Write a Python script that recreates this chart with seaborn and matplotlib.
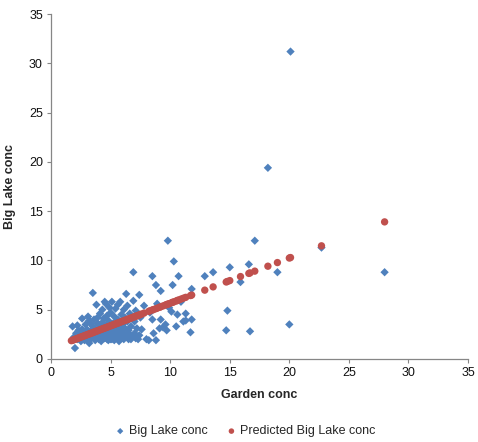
import seaborn as sns
import matplotlib.pyplot as plt

# Garden conc vs Big Lake conc (observed)
garden = [1.8, 2.0, 1.9, 2.1, 2.2, 2.3, 2.4, 2.5, 2.6, 2.6, 2.7, 2.8, 2.9, 3.0, 3.0,
          3.1, 3.2, 3.2, 3.3, 3.4, 3.5, 3.5, 3.6, 3.6, 3.7, 3.7, 3.8, 3.8, 3.9, 3.9,
          4.0, 4.0, 4.1, 4.1, 4.2, 4.2, 4.3, 4.3, 4.4, 4.4, 4.5, 4.5, 4.5, 4.6, 4.6,
          4.7, 4.7, 4.8, 4.8, 4.9, 4.9, 5.0, 5.0, 5.1, 5.1, 5.2, 5.2, 5.3, 5.3, 5.4,
          5.4, 5.5, 5.5, 5.6, 5.6, 5.7, 5.7, 5.8, 5.8, 5.9, 5.9, 6.0, 6.0, 6.1, 6.1,
          6.2, 6.2, 6.3, 6.3, 6.4, 6.4, 6.5, 6.5, 6.6, 6.7, 6.8, 6.9, 6.9, 7.0, 7.0,
          7.1, 7.2, 7.3, 7.4, 7.4, 7.5, 7.6, 7.8, 8.0, 8.2, 8.3, 8.5, 8.5, 8.6, 8.8,
          8.8, 8.9, 9.1, 9.2, 9.2, 9.4, 9.6, 9.7, 9.8, 9.9, 10.1, 10.2, 10.3, 10.5,
          10.6, 10.7, 10.9, 11.1, 11.3, 11.3, 11.7, 11.8, 11.8, 12.9, 13.6, 14.7,
          14.8, 15.0, 15.9, 16.6, 16.7, 17.1, 18.2, 19.0, 20.0, 20.1, 22.7, 28.0,
          2.2, 2.5, 2.8, 3.3, 3.4, 3.9, 4.0, 4.6, 4.9, 5.0, 5.5, 5.6, 6.0, 6.1, 6.6,
          6.7, 7.1, 3.1, 2.9, 4.8, 5.3]
big_lake = [3.3, 1.1, 2.2, 2.6, 2.0, 2.9, 2.4, 1.8, 4.1, 3.0, 2.2, 2.6, 3.5, 2.0, 3.0,
            2.4, 1.6, 3.9, 2.8, 2.1, 6.7, 3.3, 2.5, 4.0, 1.9, 3.0, 5.5, 2.3, 3.6, 4.2,
            2.0, 2.8, 4.6, 3.2, 2.4, 1.8, 3.7, 5.0, 2.6, 4.1, 5.8, 2.1, 3.0, 5.6, 3.4,
            2.0, 4.4, 2.7, 3.9, 5.2, 2.3, 3.1, 4.7, 5.8, 2.0, 2.6, 3.6, 4.3, 1.9, 5.1,
            2.9, 2.2, 3.3, 4.0, 5.5, 2.5, 1.8, 5.8, 3.0, 2.1, 4.5, 2.7, 3.5, 5.0, 2.0,
            4.2, 3.1, 6.6, 2.4, 3.8, 5.4, 2.0, 2.9, 4.6, 3.3, 2.2, 8.8, 5.9, 3.8, 2.6,
            4.9, 3.1, 2.0, 6.5, 2.4, 4.2, 3.0, 5.4, 2.0, 1.9, 4.7, 8.4, 4.0, 2.6, 7.5,
            1.9, 5.6, 3.1, 6.9, 4.0, 3.2, 3.5, 2.9, 12.0, 5.2, 4.8, 7.5, 9.9, 3.3,
            4.5, 8.4, 5.8, 3.8, 3.9, 4.6, 2.7, 4.0, 7.1, 8.4, 8.8, 2.9,
            4.9, 9.3, 7.8, 9.6, 2.8, 12.0, 19.4, 8.8, 3.5, 31.2, 11.3, 8.8,
            3.4, 2.7, 1.9, 3.6, 2.9, 2.2, 3.5, 2.5, 3.7, 2.0, 2.6, 3.1, 2.2, 3.9, 2.5,
            2.0, 2.1, 4.3, 2.2, 1.9, 2.3]

# Predicted Big Lake conc at each Garden conc value
pred_x = [1.7, 1.8, 1.9, 2.0, 2.1, 2.2, 2.3, 2.4, 2.5, 2.6, 2.7, 2.8, 2.9, 3.0, 3.1,
          3.2, 3.3, 3.4, 3.5, 3.6, 3.7, 3.8, 3.9, 4.0, 4.1, 4.2, 4.3, 4.4, 4.5, 4.6,
          4.7, 4.8, 4.9, 5.0, 5.1, 5.2, 5.3, 5.4, 5.5, 5.6, 5.7, 5.8, 5.9, 6.0, 6.1,
          6.2, 6.3, 6.4, 6.5, 6.6, 6.7, 6.8, 6.9, 7.0, 7.1, 7.2, 7.3, 7.4, 7.5, 7.6,
          7.8, 8.2, 8.3, 8.5, 8.6, 8.8, 8.9, 9.1, 9.2, 9.4, 9.6, 9.7, 9.8, 9.9, 10.1,
          10.2, 10.3, 10.5, 10.6, 10.7, 10.9, 11.1, 11.3, 11.7, 11.8, 12.9, 13.6,
          14.7, 14.8, 15.0, 15.9, 16.6, 16.7, 17.1, 18.2, 19.0, 20.0, 20.1, 22.7, 28.0]
pred_y = [1.85, 1.90, 1.94, 1.99, 2.03, 2.08, 2.12, 2.17, 2.22, 2.26, 2.31, 2.35, 2.40,
          2.45, 2.49, 2.54, 2.58, 2.63, 2.67, 2.72, 2.77, 2.81, 2.86, 2.90, 2.95, 3.00,
          3.04, 3.09, 3.13, 3.18, 3.22, 3.27, 3.32, 3.36, 3.41, 3.45, 3.50, 3.55, 3.59,
          3.64, 3.68, 3.73, 3.78, 3.82, 3.87, 3.91, 3.96, 4.00, 4.05, 4.10, 4.14, 4.19,
          4.23, 4.28, 4.33, 4.37, 4.42, 4.46, 4.51, 4.55, 4.65, 4.83, 4.88, 4.97, 5.01,
          5.10, 5.15, 5.24, 5.29, 5.38, 5.47, 5.52, 5.56, 5.61, 5.70, 5.75, 5.79, 5.88,
          5.93, 5.98, 6.07, 6.16, 6.25, 6.43, 6.48, 6.98, 7.31, 7.81, 7.86, 7.95, 8.36,
          8.68, 8.73, 8.91, 9.41, 9.78, 10.24, 10.29, 11.48, 13.91]

sns.set_style("white")
plt.rcParams['font.family'] = ['Liberation Sans', 'DejaVu Sans']

fig, ax = plt.subplots(figsize=(4.78, 4.42), dpi=100)
fig.subplots_adjust(left=0.107, right=0.979, bottom=0.188, top=0.968)

sns.scatterplot(x=garden, y=big_lake, ax=ax, marker="D", s=18, color="#4F81BD",
                edgecolor="none", label="Big Lake conc")
sns.scatterplot(x=pred_x, y=pred_y, ax=ax, marker="o", s=28, color="#C0504D",
                edgecolor="none", label="Predicted Big Lake conc")

ax.set_xlim(0, 35)
ax.set_ylim(0, 35)
ax.set_xticks(range(0, 36, 5))
ax.set_yticks(range(0, 36, 5))
ax.tick_params(axis="both", labelsize=9, length=3, color="#868686", direction="out",
               bottom=True, left=True, labelcolor="#111111", pad=3)
for side in ["top", "right"]:
    ax.spines[side].set_visible(False)
for side in ["left", "bottom"]:
    ax.spines[side].set_color("#868686")
    ax.spines[side].set_linewidth(0.9)

ax.set_xlabel("Garden conc", fontsize=9, fontweight="bold", labelpad=7)
ax.set_ylabel("Big Lake conc", fontsize=9, fontweight="bold", labelpad=9)

ax.get_legend().remove()
handles, labels = ax.get_legend_handles_labels()
fig.legend(handles, labels, loc="center", bbox_to_anchor=(0.512, 0.024), ncol=2,
           frameon=False, fontsize=9, handlelength=1.0, handletextpad=0.2,
           columnspacing=1.4, markerscale=0.75)

plt.savefig("out.png", dpi=100)
